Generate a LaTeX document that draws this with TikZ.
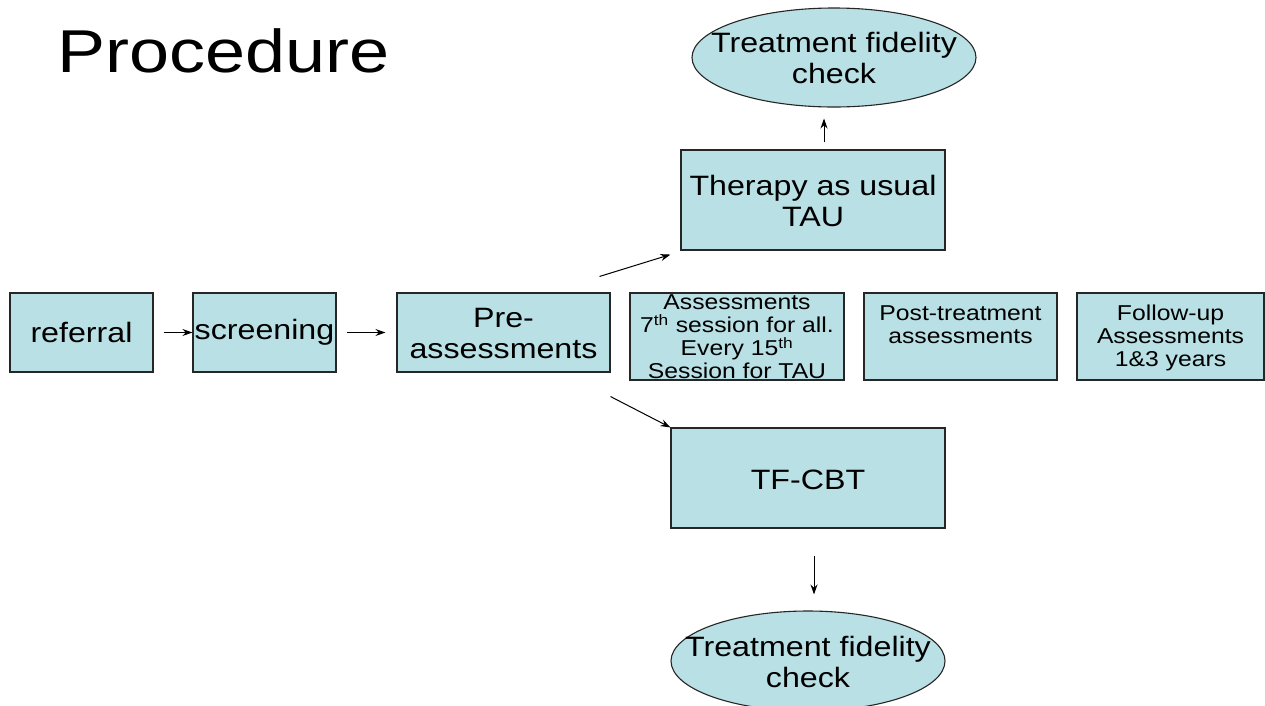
\documentclass[tikz,border=0pt]{standalone}
\usepackage{fontspec}
\setmainfont{Liberation Sans}
\usetikzlibrary{shapes.geometric,arrows.meta,calc}
\definecolor{boxfill}{RGB}{185,224,228}
\newcommand\sx[1]{\scalebox{1.15}[1]{#1}}
\newcommand\sxl[1]{\scalebox{1.15}[1]{\begin{tabular}{@{}c@{}}#1\end{tabular}}}
\newcommand\supth{\smash{\textsuperscript{th}}}
\begin{document}
\begin{tikzpicture}[x=1pt,y=-1pt,
  box/.style={draw=black!85, line width=1.1pt, fill=boxfill, rectangle, inner sep=0pt},
  big/.style={font=\fontsize{28}{31}\selectfont},
  small/.style={font=\fontsize{21.5}{23.2}\selectfont},
  arr/.style={-{Stealth[length=10pt,width=7pt]}, line width=1pt},
  oval/.style={draw=black!85, line width=1.1pt, fill=boxfill, ellipse, inner sep=0pt}]
\useasboundingbox (0,0) rectangle (1265,705);
\fill[white] (0,0) rectangle (1265,705);

\node[anchor=base west, inner sep=0pt, font=\fontsize{60.5}{70}\selectfont] (title) at (57,72) {\scalebox{1.19}[1]{Procedure}};

\node[box, big, minimum width=143pt, minimum height=79pt] (ref) at (81.5,332.5) {\sx{referral}};
\node[box, big, minimum width=143pt, minimum height=79pt] (scr) at (264.5,332.5) {\sx{screening}};
\node[box, minimum width=213pt, minimum height=79pt,
  label={[big, inner sep=0pt, yshift=-4.5pt]center:\sxl{Pre-\\assessments}}] (pre) at (503.5,332.5) {};
\node[box, minimum width=214pt, minimum height=87pt,
  label={[small, inner sep=0pt, yshift=-3pt]center:\sxl{Assessments\\7\supth{} session for all.\\Every 15\supth\\Session for TAU}}] (ass) at (737,336.5) {};
\node[box, minimum width=193pt, minimum height=87pt] (post) at (960.5,336.5) {};
\node[small, anchor=north, inner sep=0pt] (posttxt) at ($(post.north)+(0,11.5)$) {\sxl{Post-treatment\\assessments}};
\node[box, minimum width=187pt, minimum height=87pt,
  label={[small, inner sep=0pt, yshift=-2.5pt]center:\sxl{Follow-up\\Assessments\\1\&3 years}}] (fol) at (1170.5,336.5) {};
\node[box, minimum width=264pt, minimum height=100pt,
  label={[big, inner sep=0pt, yshift=-5pt]center:\sxl{Therapy as usual\\TAU}}] (tau) at (813,200) {};
\node[box, minimum width=274pt, minimum height=100pt,
  label={[big, inner sep=0pt, yshift=-2pt]center:\sx{TF-CBT}}] (cbt) at (808,478) {};
\node[oval, minimum width=284pt, minimum height=99pt,
  label={[big, inner sep=0pt, yshift=-4.5pt]center:\sxl{Treatment fidelity\\check}}] (ell1) at (834,57.5) {};
\node[oval, minimum width=274pt, minimum height=100pt,
  label={[big, inner sep=0pt, yshift=-4.5pt]center:\sxl{Treatment fidelity\\check}}] (ell2) at (808,661) {};

\draw[arr] ($(ref.east)+(10,0)$) -- (scr.west);
\draw[arr] ($(scr.east)+(10,0)$) -- ($(pre.west)+(-11,0)$);
\draw[arr] ($(pre.north east)+(-11,-16)$) -- ($(tau.south west)+(-10,4)$);
\draw[arr] ($(pre.south east)+(0,24)$) -- (cbt.north west);
\coordinate (u1) at ($(tau.north)+(11,-7)$);
\coordinate (u2) at ($(ell1.south)+(-10,11)$);
\draw[arr] (u1) -- (u2);
\coordinate (d1) at ($(cbt.south)+(6,27)$);
\coordinate (d2) at ($(ell2.north)+(6,-16)$);
\draw[arr] (d1) -- (d2);
\end{tikzpicture}
\end{document}
